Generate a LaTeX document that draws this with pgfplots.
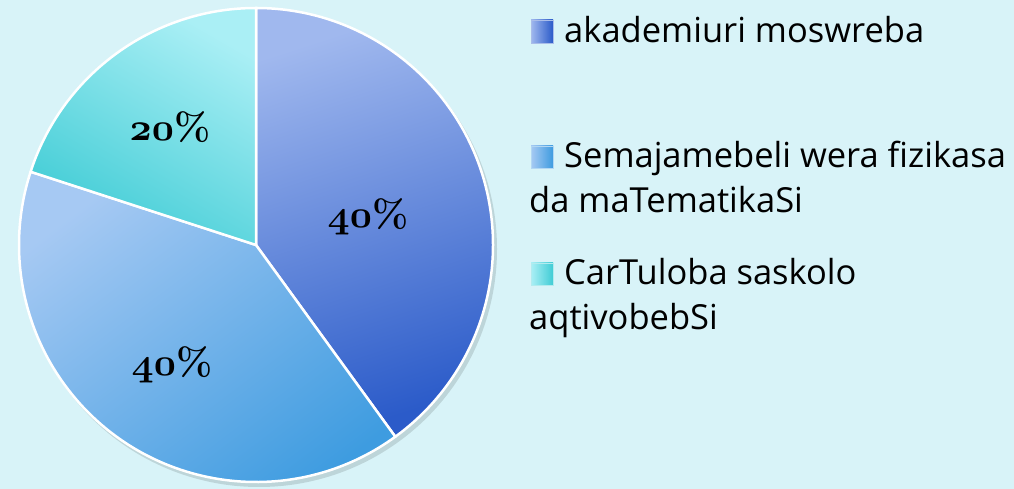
\documentclass[border=0pt]{standalone}
\usepackage{pgfplots}
\pgfplotsset{compat=1.18}
\usepackage{pgfplotstable}
\usepackage{fontspec}
\newfontfamily\legfont{Open Sans}
\definecolor{bg}{HTML}{D8F3F8}
\definecolor{dA}{HTML}{A0B8EE}
\definecolor{dM}{HTML}{5E86DD}
\definecolor{dB}{HTML}{2B5BC9}
\definecolor{mA}{HTML}{A6C9F3}
\definecolor{mM}{HTML}{68AEEA}
\definecolor{mB}{HTML}{3E9CE0}
\definecolor{cA}{HTML}{AAEFF5}
\definecolor{cM}{HTML}{62DBE3}
\definecolor{cB}{HTML}{40CCD5}
\newcommand\osn[1]{{\usefont{OML}{cmm}{b}{it}#1}}
\newcommand\pct[1]{{\fontsize{24.88}{28}\selectfont\osn{#1}\bfseries\%}}
\pgfplotstableread{
label value
akademiuri 40
Semajamebeli 40
CarTuloba 20
}\piedata
\pgfplotstablegetelem{0}{value}\of\piedata\let\vA\pgfplotsretval
\pgfplotstablegetelem{1}{value}\of\piedata\let\vB\pgfplotsretval
\pgfplotstablegetelem{2}{value}\of\piedata\let\vC\pgfplotsretval
\pgfmathsetmacro\aA{90-3.6*\vA}
\pgfmathsetmacro\aB{\aA-3.6*\vB}
\pgfmathsetmacro\aC{\aB-3.6*\vC}
\begin{document}
\begin{tikzpicture}
\begin{axis}[
  width=1014pt, height=489pt, scale only axis,
  xmin=0, xmax=1014, ymin=0, ymax=489,
  hide axis, clip=false,
]
\coordinate (bl) at (axis cs:0,0);
\coordinate (tr) at (axis cs:1014,489);
\fill[bg] (axis cs:0,0) rectangle (axis cs:1014,489);
% shadow
\fill[black, opacity=0.12] (axis cs:259,240) circle[radius=238pt];
% slices
\addplot[shade, top color=dA, middle color=dM, bottom color=dB, shading angle=18, draw=white, line width=2.5pt, line join=round]
  coordinates {(256,244)} -- (axis cs:256,481) arc[start angle=90, end angle=\aA, radius=237pt] -- cycle;
\addplot[shade, top color=mA, middle color=mM, bottom color=mB, shading angle=37, draw=white, line width=2.5pt, line join=round]
  coordinates {(256,244)} -- ++(\aA:237pt) arc[start angle=\aA, end angle=\aB, radius=237pt] -- cycle;
\addplot[shade, top color=cA, middle color=cM, bottom color=cB, shading angle=-30, draw=white, line width=2.5pt, line join=round]
  coordinates {(256,244)} -- ++(\aB:237pt) arc[start angle=\aB, end angle=\aC, radius=237pt] -- cycle;
% labels
\node[scale=1.55] at (axis cs:368,272) {\pct{40}};
\node[scale=1.55] at (axis cs:172,124) {\pct{40}};
\node[scale=1.55] at (axis cs:170,362) {\pct{20}};
% legend
\shade[left color=dA, right color=dB, draw=white!60!dB, line width=0.5pt] (axis cs:531,446) rectangle (axis cs:553,469);
\shade[left color=mA, right color=mB, draw=white!60!mB, line width=0.5pt] (axis cs:531,321) rectangle (axis cs:553,343);
\shade[left color=cA, right color=cB, draw=white!60!cB, line width=0.5pt] (axis cs:531,204) rectangle (axis cs:553,226);
\begin{scope}[every node/.style={anchor=base west, inner sep=0pt, font=\legfont\fontsize{34.5}{40}\selectfont}]
\node at (axis cs:564,446) {akademiuri moswreba};
\node at (axis cs:564,321) {Semajamebeli wera fizikasa};
\node at (axis cs:529,276) {da maTematikaSi};
\node at (axis cs:564,204) {CarTuloba saskolo};
\node at (axis cs:529,159) {aqtivobebSi};
\end{scope}
\end{axis}
\pgfresetboundingbox
\path[use as bounding box] (bl) rectangle (tr);
\end{tikzpicture}
\end{document}
